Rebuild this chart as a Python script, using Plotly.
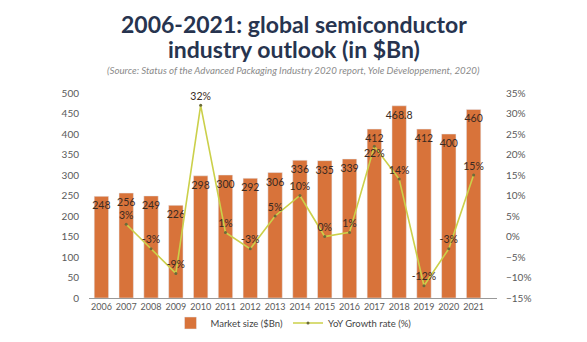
import plotly.graph_objects as go

years = [str(y) for y in range(2006, 2022)]
market_size = [248, 256, 249, 226, 298, 300, 292, 306, 336, 335, 339, 412, 468.8, 412, 400, 460]
market_labels = ["248", "256", "249", "226", "298", "300", "292", "306", "336", "335", "339", "412", "468.8", "412", "400", "460"]
growth_years = years[1:]
growth = [3, -3, -9, 32, 1, -3, 5, 10, 0, 1, 22, 14, -12, -3, 15]
growth_labels = [f"{g}%" for g in growth]
growth_label_pos = ["top center"] * 10 + ["bottom center"] + ["top center"] * 4

W, H = 587, 342
FONT = "Lato"
fig = go.Figure()
fig.add_trace(go.Bar(
    x=years, y=market_size, name="Market size ($Bn)",
    marker=dict(color="#d8733a"),
    text=market_labels, textposition="inside", insidetextanchor="end",
    textangle=0, constraintext="none",
    textfont=dict(size=10.5, color="#3a2a22", family=FONT),
    cliponaxis=False,
))
fig.add_trace(go.Scatter(
    x=growth_years, y=growth, name="YoY Growth rate (%)", yaxis="y2",
    mode="lines+markers+text",
    line=dict(color="#cbd04a", width=1.6),
    marker=dict(size=3, color="#6b6b3a"),
    text=growth_labels, textposition=growth_label_pos,
    textfont=dict(size=10.5, color="#3a2a22", family=FONT),
    cliponaxis=False,
))

tickfont = dict(size=10, color="#5a5a5a", family=FONT)
ydom = [44 / H, (H - 93) / H]
fig.update_layout(
    width=W, height=H,
    margin=dict(l=0, r=0, t=0, b=0),
    paper_bgcolor="white", plot_bgcolor="white",
    bargap=0.42,
    showlegend=True,
    legend=dict(orientation="h", x=0.5, xanchor="center", y=(H - 323) / H, yanchor="middle",
                bgcolor="rgba(0,0,0,0)",
                font=dict(size=9.5, color="#444444", family=FONT),
                itemwidth=30, tracegroupgap=0),
    xaxis=dict(type="category", domain=[89 / W, (W - 90) / W],
               showgrid=False, showline=True, linecolor="#999999", linewidth=1,
               ticks="", tickangle=0, automargin=False,
               tickfont=dict(size=9, color="#5a5a5a", family=FONT)),
    yaxis=dict(domain=ydom, range=[0, 500], dtick=50, showgrid=False, zeroline=False, showline=False,
               ticks="outside", ticklen=7, tickcolor="rgba(0,0,0,0)", tickfont=tickfont,
               automargin=False),
    yaxis2=dict(range=[-15, 35], dtick=5, overlaying="y", side="right", showgrid=False,
                zeroline=False, showline=False, ticksuffix="%", automargin=False,
                ticks="outside", ticklen=6, tickcolor="rgba(0,0,0,0)", tickfont=tickfont),
    annotations=[
        dict(text="<b>2006-2021: global semiconductor</b>", xref="paper", yref="paper",
             x=0.5, y=(H - 24) / H, xanchor="center", yanchor="middle", showarrow=False,
             font=dict(size=23, color="#27344f", family=FONT)),
        dict(text="<b>industry outlook (in $Bn)</b>", xref="paper", yref="paper",
             x=0.5, y=(H - 49) / H, xanchor="center", yanchor="middle", showarrow=False,
             font=dict(size=23, color="#27344f", family=FONT)),
        dict(text="<i>(Source: Status of the Advanced Packaging Industry 2020 report, Yole Développement, 2020)</i>",
             xref="paper", yref="paper",
             x=0.5, y=(H - 70.5) / H, xanchor="center", yanchor="middle", showarrow=False,
             font=dict(size=9.7, color="#8a8a8a", family=FONT)),
    ],
)
fig.write_html("out.html")
